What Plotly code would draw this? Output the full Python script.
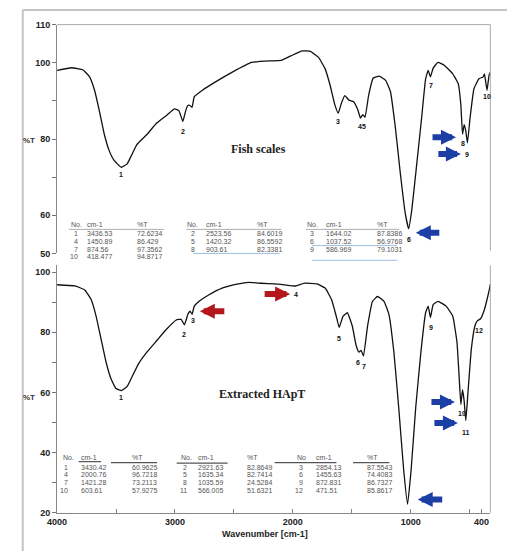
import plotly.graph_objects as go

W, H = 507, 556

# ---------------- data ----------------
fish_wn = [4000, 3877, 3779, 3724, 3682, 3640, 3599, 3557, 3516, 3455, 3405, 3363, 3322, 3238,
           3155, 3072, 3003, 2966, 2933, 2911, 2891, 2872, 2855, 2836, 2767, 2656, 2517, 2350,
           2200, 2100, 2017, 1921, 1851, 1782, 1726, 1684, 1643, 1615, 1588, 1560, 1524, 1485,
           1449, 1427, 1407, 1388, 1357, 1318, 1268, 1213, 1172, 1130, 1088, 1047, 1018, 991,
           949, 908, 874, 852, 833, 810, 769, 714, 644, 597, 575, 561, 547, 533, 519, 497, 464,
           422, 386, 375, 353, 336, 325]
fish_T = [98.0, 98.7, 98.1, 96.3, 92.8, 87.2, 81.2, 76.9, 74.4, 72.6, 73.5, 76.1, 78.6, 81.2,
          84.2, 86.2, 87.9, 87.4, 84.6, 87.2, 88.8, 88.8, 88.3, 91.1, 92.8, 95.0, 97.5, 100.1,
          100.5, 100.6, 101.8, 103.1, 103.0, 101.4, 98.4, 94.1, 88.9, 86.8, 89.4, 91.4, 90.2, 89.8,
          87.7, 85.5, 86.4, 85.7, 91.5, 96.0, 96.5, 95.4, 92.4, 82.9, 70.9, 60.6, 56.5, 61.5,
          73.5, 85.5, 95.8, 98.0, 96.3, 98.6, 100.1, 99.3, 97.1, 94.5, 88.9, 81.3, 83.8, 82.1,
          79.0, 85.5, 93.2, 95.8, 96.3, 97.1, 92.8, 96.7, 97.5]

hapt_wn = [4000, 3849, 3765, 3710, 3669, 3627, 3585, 3544, 3502, 3455, 3405, 3363, 3308, 3238,
           3155, 3072, 2989, 2947, 2920, 2891, 2872, 2855, 2836, 2795, 2711, 2600, 2462, 2379,
           2267, 2156, 2073, 1976, 1907, 1796, 1726, 1671, 1629, 1607, 1574, 1538, 1496, 1463,
           1440, 1421, 1401, 1366, 1324, 1282, 1227, 1185, 1143, 1102, 1060, 1027, 997, 958, 914,
           874, 852, 833, 810, 769, 700, 644, 608, 589, 575, 561, 547, 533, 514, 486, 456, 436,
           408, 375, 347, 331, 325]
hapt_T = [95.8, 95.4, 94.1, 90.8, 85.4, 77.8, 70.2, 64.7, 61.4, 60.6, 62.0, 65.3, 69.6, 73.4,
          77.2, 81.0, 84.1, 84.3, 82.5, 85.9, 87.0, 86.0, 88.7, 90.3, 92.5, 94.7, 96.1, 96.6,
          96.3, 96.1, 95.8, 95.4, 96.3, 96.1, 94.7, 90.8, 84.9, 81.6, 85.4, 86.5, 82.1, 75.6,
          73.4, 74.0, 72.1, 82.1, 90.3, 91.9, 90.3, 85.9, 73.4, 54.9, 34.2, 22.8, 34.2, 54.9, 73.4,
          86.5, 88.7, 84.9, 89.2, 90.3, 88.7, 85.4, 76.7, 64.7, 56.0, 60.9, 57.1, 50.6, 60.4, 74.5,
          82.1, 83.8, 84.5, 87.6, 91.9, 94.7, 96.0]

# peak label positions (wavenumber, %T)
fish_peak_lbl = ["1", "2", "3", "45", "6", "7", "8", "9", "10"]
fish_peak_wn = [3455, 2933, 1615, 1410, 1018, 825, 561, 519, 350]
fish_peak_T = [70.6, 82.1, 84.7, 83.4, 53.7, 94.1, 78.8, 75.9, 91.1]

hapt_peak_lbl = ["1", "2", "3", "4", "5", "6", "7", "9", "10", "11", "12"]
hapt_peak_wn = [3461, 2920, 2850, 1970, 1607, 1444, 1398, 830, 566, 533, 418]
hapt_peak_T = [58.2, 79.1, 84.0, 92.5, 78.1, 69.9, 68.5, 81.6, 52.9, 46.7, 80.7]

# peak tables
fish_no = ["1", "2", "3", "4", "5", "6", "7", "8", "9", "10"]
fish_cm = ["3436.53", "2523.56", "1644.02", "1450.89", "1420.32", "1037.52", "874.56",
           "903.61", "586.969", "418.477"]
fish_pt = ["72.6234", "84.6019", "87.8386", "86.429", "86.5592", "56.9768", "97.3562",
           "82.3381", "79.1031", "94.8717"]

hapt_no = ["1", "2", "3", "4", "5", "6", "7", "8", "9", "10", "11", "12"]
hapt_cm = ["3430.42", "2921.63", "2854.13", "2000.76", "1635.34", "1455.63", "1421.28",
           "1035.59", "872.831", "603.61", "566.005", "471.51"]
hapt_pt = ["60.9625", "82.8649", "87.5543", "96.7218", "82.7414", "74.4083", "73.2113",
           "24.5284", "86.7327", "57.9275", "51.6321", "85.8617"]

x_tick_vals = [4000, 3500, 3000, 2500, 2000, 1500, 1000, 500, 400]
x_tick_text = ["4000", "", "3000", "", "2000", "", "1000", "", "400"]
y1_tick_vals = [50, 60, 70, 80, 90, 100, 110]
y1_tick_text = ["50", "60", "", "80", "", "100", "110"]
y2_tick_vals = [20, 30, 40, 50, 60, 70, 80, 90, 100]
y2_tick_text = ["20", "", "40", "", "60", "", "80", "", "100"]


# ---------------- layout helpers (pixel -> paper) ----------------
def px(x):
    return x / W


def py(y):
    return 1 - y / H


X0, X1 = 48, 490
TOP_Y0, TOP_Y1 = 20, 253
BOT_Y0, BOT_Y1 = 265, 517
XRANGE = [4000, 325]

fig = go.Figure()
line_style = dict(color="#111", width=1.3, shape="spline", smoothing=0.35)
fig.add_trace(go.Scatter(x=fish_wn, y=fish_T, mode="lines", line=line_style,
                         xaxis="x", yaxis="y", showlegend=False, hoverinfo="skip"))
fig.add_trace(go.Scatter(x=hapt_wn, y=hapt_T, mode="lines", line=line_style,
                         xaxis="x2", yaxis="y2", showlegend=False, hoverinfo="skip"))

tickfont = dict(family="Liberation Sans, Arial", size=9, color="#222")
fig.update_layout(
    width=W, height=H, margin=dict(l=0, r=0, t=0, b=0),
    paper_bgcolor="white", plot_bgcolor="white",
    xaxis=dict(domain=[px(X0), px(X1)], range=XRANGE, visible=False, anchor="y"),
    yaxis=dict(domain=[py(TOP_Y1), py(TOP_Y0)], range=[50, 110], anchor="x",
               tickvals=y1_tick_vals, ticktext=["<b>%s</b>" % t if t else "" for t in y1_tick_text],
               ticks="outside", ticklen=4, tickcolor="#777", showline=True, linecolor="#888",
               showgrid=False, zeroline=False, tickfont=tickfont),
    xaxis2=dict(domain=[px(X0), px(X1)], range=XRANGE, anchor="y2",
                tickvals=x_tick_vals, ticktext=["<b>%s</b>" % t if t else "" for t in x_tick_text],
                ticks="inside", ticklen=4, tickcolor="#888", showline=True, linecolor="#888",
                showgrid=False, zeroline=False, tickfont=tickfont, ticklabelstandoff=0),
    yaxis2=dict(domain=[py(BOT_Y1), py(BOT_Y0)], range=[20, 102.3], anchor="x2",
                tickvals=y2_tick_vals, ticktext=["<b>%s</b>" % t if t else "" for t in y2_tick_text],
                ticks="outside", ticklen=4, tickcolor="#777", showline=True, linecolor="#888",
                showgrid=False, zeroline=False, tickfont=tickfont),
)

shapes = []
# outer border of the scanned figure
shapes.append(dict(type="line", xref="paper", yref="paper", x0=px(13), x1=px(13), y0=py(5), y1=0,
                   line=dict(color="#c4c4c4", width=2)))
shapes.append(dict(type="line", xref="paper", yref="paper", x0=px(13), x1=1, y0=py(5), y1=py(5),
                   line=dict(color="#c4c4c4", width=2)))
# panel frames
shapes.append(dict(type="line", xref="paper", yref="paper", x0=px(X0), x1=px(X1), y0=py(TOP_Y0), y1=py(TOP_Y0),
                   line=dict(color="#aaa", width=1)))
shapes.append(dict(type="line", xref="paper", yref="paper", x0=px(X1), x1=px(X1), y0=py(TOP_Y0), y1=py(250),
                   line=dict(color="#aaa", width=1)))
shapes.append(dict(type="line", xref="paper", yref="paper", x0=px(X1), x1=px(X1), y0=py(BOT_Y0), y1=py(BOT_Y1),
                   line=dict(color="#aaa", width=1)))

ann = []


def txt(text, x, y, font, xanchor="center"):
    ann.append(dict(text=text, x=px(x), y=py(y), xref="paper", yref="paper", xanchor=xanchor,
                    yanchor="middle", showarrow=False, font=font))


serif = dict(family="Liberation Serif, Times New Roman", size=12, color="#222")
# panel titles
txt("<b>Fish scales</b>", 253, 147, serif)
txt("<b>Extracted HApT</b>", 257, 396, serif)
# %T labels
for yy in (138, 400):
    txt("<b>%T</b>", 11, yy, dict(family="Liberation Sans, Arial", size=8, color="#333"), "left")
# x axis title
txt("<b>Wavenumber [cm-1]</b>", 260, 539, dict(family="Liberation Sans, Arial", size=9, color="#222"))

# peak number labels
lblfont = dict(family="Liberation Sans, Arial", size=7, color="#111")
for t, xw, yt in zip(fish_peak_lbl, fish_peak_wn, fish_peak_T):
    ann.append(dict(text="<b>%s</b>" % t, x=xw, y=yt, xref="x", yref="y", showarrow=False,
                    xanchor="center", yanchor="middle", font=lblfont))
for t, xw, yt in zip(hapt_peak_lbl, hapt_peak_wn, hapt_peak_T):
    ann.append(dict(text="<b>%s</b>" % t, x=xw, y=yt, xref="x2", yref="y2", showarrow=False,
                    xanchor="center", yanchor="middle", font=lblfont))

# thick coloured arrows (tip in data coords, tail offset in px)
BLUE, RED = "#1c3fa6", "#b3161b"
arrows = [("x", "y", 616, 80.5, -25, BLUE), ("x", "y", 575, 76.1, -24, BLUE),
          ("x", "y", 957, 55.4, 25, BLUE),
          ("x2", "y2", 2789, 87.0, 26, RED), ("x2", "y2", 2023, 92.7, -27, RED),
          ("x2", "y2", 625, 56.8, -25, BLUE), ("x2", "y2", 600, 49.8, -25, BLUE),
          ("x2", "y2", 941, 24.4, 26, BLUE)]
for xr, yr, xw, yt, dx, col in arrows:
    ann.append(dict(text="", x=xw, y=yt, xref=xr, yref=yr, ax=dx, ay=0, axref="pixel", ayref="pixel",
                    showarrow=True, arrowhead=2, arrowsize=0.5, arrowwidth=6, arrowcolor=col,
                    standoff=0))

# peak tables
tfont = dict(family="Liberation Sans, Arial", size=7, color="#555")


def table(nos, cms, pts, hdr_y, row_ys, hdr_no_x, no_r, cm_l, pt_l, hdr_no_text):
    for g in range(3):
        txt(hdr_no_text[g], hdr_no_x[g], hdr_y, tfont, "left")
        txt("cm-1", cm_l[g], hdr_y, tfont, "left")
        txt("%T", pt_l[g], hdr_y, tfont, "left")
    for i, (n, c, p) in enumerate(zip(nos, cms, pts)):
        g, r = i % 3, i // 3
        yy = row_ys[r]
        txt(n, no_r[g], yy, tfont, "right")
        txt(c, cm_l[g], yy, tfont, "left")
        txt(p, pt_l[g], yy, tfont, "left")


table(fish_no, fish_cm, fish_pt, 224, [232.5, 240.5, 248.5, 256.5],
      [60, 179, 301], [71, 191, 312], [77, 198, 320], [128, 250, 372], ["No.", "No.", "No."])
table(hapt_no, hapt_cm, hapt_pt, 461, [470.5, 478.5, 486.5, 494.5],
      [52, 172, 291], [61, 183, 301], [70, 190, 310], [122, 240, 362], ["No.", "No.", "No"])

# table rules
for x0, x1 in [(60, 157), (180, 277), (302, 397)]:
    shapes.append(dict(type="line", xref="paper", yref="paper", x0=px(x0), x1=px(x1), y0=py(228.5), y1=py(228.5),
                       line=dict(color="#999", width=0.8)))
for x0, x1, yy in [(187, 275, 253), (308, 395, 245), (308, 395, 260)]:
    shapes.append(dict(type="line", xref="paper", yref="paper", x0=px(x0), x1=px(x1), y0=py(yy), y1=py(yy),
                       line=dict(color="#8fb6dc", width=0.9)))
for x0, x1, yy in [(70, 93, 465), (103, 150, 466), (170, 222, 466.5), (270, 333, 466), (350, 387, 466)]:
    shapes.append(dict(type="line", xref="paper", yref="paper", x0=px(x0), x1=px(x1), y0=py(yy), y1=py(yy),
                       line=dict(color="#555", width=1.2)))

fig.update_layout(shapes=shapes, annotations=ann)
fig.write_html("out.html", config={"displayModeBar": False},
               post_script="document.body.style.margin='0';document.body.style.overflow='hidden';")
